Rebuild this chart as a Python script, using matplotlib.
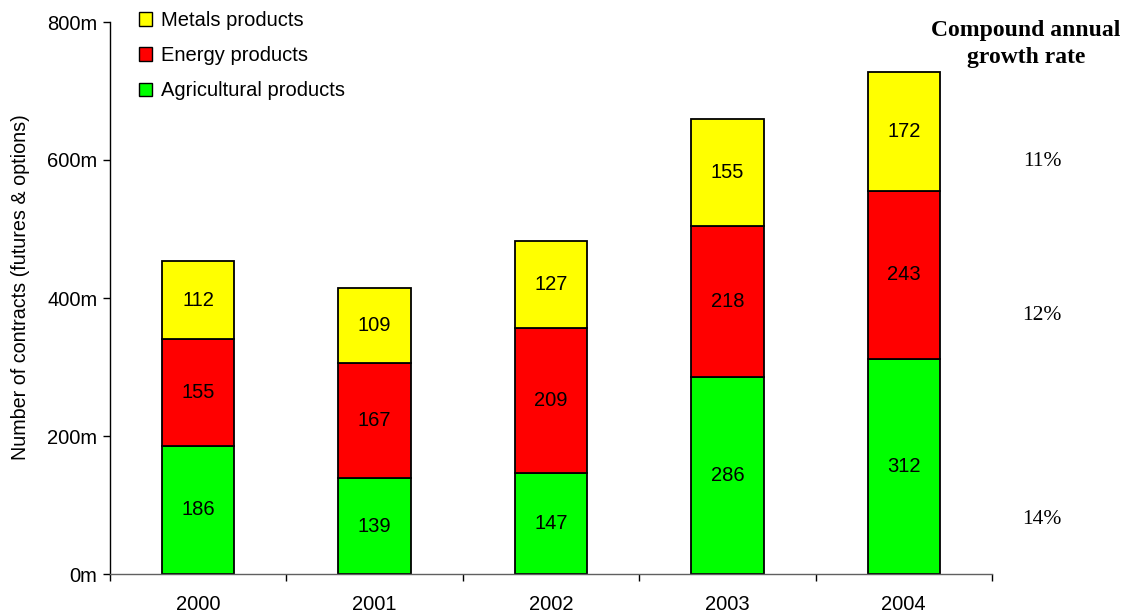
import matplotlib
matplotlib.use("Agg")
import matplotlib.pyplot as plt
from matplotlib.patches import Rectangle
import numpy as np

years = ["2000", "2001", "2002", "2003", "2004"]
agricultural = [186, 139, 147, 286, 312]
energy = [155, 167, 209, 218, 243]
metals = [112, 109, 127, 155, 172]
series_names = ["Agricultural products", "Energy products", "Metals products"]
series_colors = ["#00FF00", "#FF0000", "#FFFF00"]
growth_rates = ["14%", "12%", "11%"]
y_ticks = [0, 200, 400, 600, 800]
y_tick_labels = ["0m", "200m", "400m", "600m", "800m"]

plt.rcParams["font.family"] = ["Liberation Sans", "DejaVu Sans"]
FS = 14.5
SERIF = ["Liberation Serif", "DejaVu Serif"]

fig = plt.figure(figsize=(11.39, 6.14), dpi=100)
ax = fig.add_axes([110 / 1139, 40 / 614, 882 / 1139, 552 / 614])

x = np.arange(len(years))
bottom = np.zeros(len(years))
for vals, name, col in zip([agricultural, energy, metals], series_names, series_colors):
    ax.bar(x, vals, width=0.41, bottom=bottom, color=col, edgecolor="black",
           linewidth=1.3, label=name, zorder=2)
    for xi, b, v in zip(x, bottom, vals):
        ax.text(xi, b + v / 2, str(v), ha="center", va="center", fontsize=FS,
                color="black", zorder=3)
    bottom = bottom + np.array(vals)

ax.set_xlim(-0.5, len(years) - 0.5)
ax.set_ylim(0, 800)
ax.set_yticks(y_ticks)
ax.set_yticklabels(y_tick_labels, fontsize=FS)
ax.set_xticks(x)
ax.set_xticklabels(years, fontsize=FS)
ax.tick_params(axis="x", which="major", length=0, pad=15)
ax.set_xticks(np.arange(-0.5, len(years)), minor=True)
ax.tick_params(axis="x", which="minor", length=5, width=1, direction="out")
ax.tick_params(axis="y", length=5, width=1, direction="out", pad=4)
for side in ["top", "right"]:
    ax.spines[side].set_visible(False)
ax.spines["left"].set_linewidth(1)
ax.spines["bottom"].set_linewidth(1)
ax.spines["bottom"].set_color("#606060")

ax.set_ylabel("Number of contracts (futures & options)", fontsize=14.2)
ax.yaxis.set_label_coords(-0.0907, 0.52)

handles = [Rectangle((0, 0), 1, 1, facecolor=c, edgecolor="black", linewidth=1)
           for c in series_colors[::-1]]
ax.legend(handles, series_names[::-1], loc="upper left",
          bbox_to_anchor=(121 / 1139, 1 + 7 / 614), bbox_transform=fig.transFigure,
          frameon=False, fontsize=FS, handlelength=0.65, handleheight=0.65,
          handletextpad=0.45, labelspacing=0.8)

fig.text(1026 / 1139, 1 - 44 / 614, "Compound annual\ngrowth rate",
         ha="center", va="center", fontsize=17, fontweight="bold",
         family=SERIF, linespacing=1.4)
for label, ypix in zip(growth_rates, [520, 315, 162]):
    fig.text(1042 / 1139, 1 - ypix / 614, label, ha="center", va="center",
             fontsize=15.5, family=SERIF)

fig.savefig("out.png", dpi=100)
